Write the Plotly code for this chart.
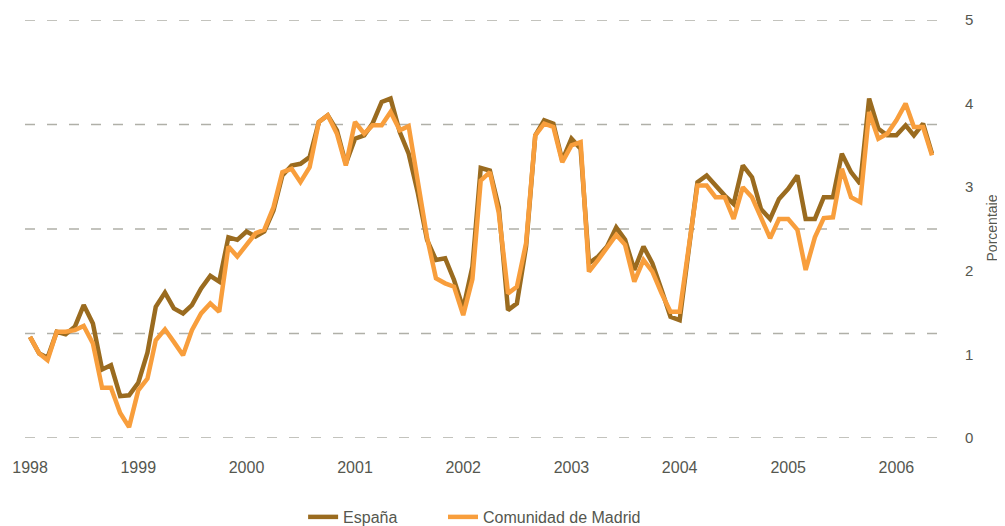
import pandas as pd
import plotly.graph_objects as go

# Monthly series, Jan 1998 - May 2006 (percentage)
espana = [1.21, 1.01, 0.96, 1.27, 1.24, 1.33, 1.59, 1.37, 0.82, 0.87, 0.50, 0.51,
          0.66, 1.02, 1.57, 1.74, 1.55, 1.49, 1.59, 1.79, 1.94, 1.87, 2.40, 2.37,
          2.47, 2.41, 2.47, 2.72, 3.14, 3.26, 3.28, 3.36, 3.78, 3.86, 3.68, 3.28,
          3.58, 3.62, 3.76, 4.02, 4.06, 3.66, 3.40, 2.93, 2.37, 2.13, 2.15, 1.89,
          1.55, 2.05, 3.23, 3.20, 2.76, 1.53, 1.61, 2.29, 3.62, 3.80, 3.76, 3.32,
          3.58, 3.46, 2.09, 2.17, 2.29, 2.52, 2.37, 2.01, 2.29, 2.09, 1.77, 1.45,
          1.41, 2.30, 3.06, 3.14, 3.02, 2.90, 2.80, 3.26, 3.12, 2.74, 2.62, 2.86,
          2.98, 3.14, 2.62, 2.62, 2.88, 2.88, 3.40, 3.18, 3.04, 4.06, 3.70, 3.62,
          3.62, 3.74, 3.62, 3.76, 3.40]

madrid = [1.21, 1.01, 0.93, 1.27, 1.27, 1.29, 1.34, 1.13, 0.60, 0.60, 0.30, 0.13,
          0.57, 0.71, 1.17, 1.30, 1.15, 0.99, 1.29, 1.49, 1.61, 1.51, 2.29, 2.17,
          2.31, 2.45, 2.49, 2.76, 3.18, 3.22, 3.06, 3.24, 3.78, 3.86, 3.64, 3.26,
          3.78, 3.64, 3.74, 3.74, 3.90, 3.68, 3.73, 3.06, 2.40, 1.91, 1.85, 1.81,
          1.47, 1.90, 3.08, 3.18, 2.69, 1.73, 1.81, 2.33, 3.62, 3.76, 3.72, 3.30,
          3.50, 3.54, 1.99, 2.13, 2.27, 2.43, 2.31, 1.87, 2.13, 1.99, 1.73, 1.51,
          1.51, 2.30, 3.02, 3.02, 2.88, 2.88, 2.62, 3.00, 2.88, 2.64, 2.39, 2.62,
          2.62, 2.49, 2.01, 2.40, 2.63, 2.64, 3.22, 2.88, 2.82, 3.90, 3.58, 3.64,
          3.80, 4.00, 3.72, 3.72, 3.38]

series_names = ["España", "Comunidad de Madrid"]
year_ticks = ["1998", "1999", "2000", "2001", "2002", "2003", "2004", "2005", "2006"]
y_ticks = [0, 1, 2, 3, 4, 5]
grid_levels = [0, 1.25, 2.5, 3.75, 5]

months = pd.date_range("1998-01-01", periods=len(espana), freq="MS")

COL_ES = "#9a6b1f"
COL_MAD = "#f89e3c"
TXT = "#55574f"
FONT = "Liberation Sans, Arial, sans-serif"

fig = go.Figure()
fig.add_trace(go.Scatter(x=months, y=espana, mode="lines", name=series_names[0],
                         line=dict(color=COL_ES, width=4.5), legend="legend"))
fig.add_trace(go.Scatter(x=months, y=madrid, mode="lines", name=series_names[1],
                         line=dict(color=COL_MAD, width=4.5), legend="legend2"))

for g in grid_levels:
    fig.add_shape(type="line", xref="paper", x0=0, x1=1, yref="y", y0=g, y1=g,
                  line=dict(color="#b0b0a8", width=1.3, dash="10px,12px"), layer="below")

fig.add_annotation(text="Porcentaje", xref="paper", yref="paper", x=1.048, y=0.502,
                   textangle=-90, showarrow=False, xanchor="center", yanchor="middle",
                   font=dict(family=FONT, size=14, color=TXT))

legend_common = dict(orientation="h", xref="container", yref="container",
                     xanchor="left", y=0.0174, yanchor="middle",
                     font=dict(family=FONT, size=16, color=TXT),
                     bgcolor="rgba(0,0,0,0)")

# page body adds an 8px offset, so the figure is 8px smaller than the window
fig.update_layout(
    width=997, height=518,
    margin=dict(l=17, r=57, t=11.5, b=88, autoexpand=False),
    paper_bgcolor="white", plot_bgcolor="white",
    font=dict(family=FONT, size=16, color=TXT),
    showlegend=True,
    legend=dict(x=0.296, **legend_common),
    legend2=dict(x=0.4363, **legend_common),
    xaxis=dict(range=["1997-12-15", "2006-06-24"], showgrid=False, zeroline=False,
               showline=False, ticks="", automargin=False,
               tickvals=[pd.Timestamp(y + "-01-01") for y in year_ticks],
               ticktext=year_ticks, ticklabelstandoff=18,
               tickfont=dict(family=FONT, size=16, color=TXT)),
    yaxis=dict(range=[0, 5], side="right", showgrid=False, zeroline=False,
               showline=False, ticks="", tickvals=y_ticks, automargin=False,
               ticktext=[str(v) for v in y_ticks], ticklabelstandoff=16,
               tickfont=dict(family=FONT, size=15, color=TXT)),
)

fig.write_html("out.html")
